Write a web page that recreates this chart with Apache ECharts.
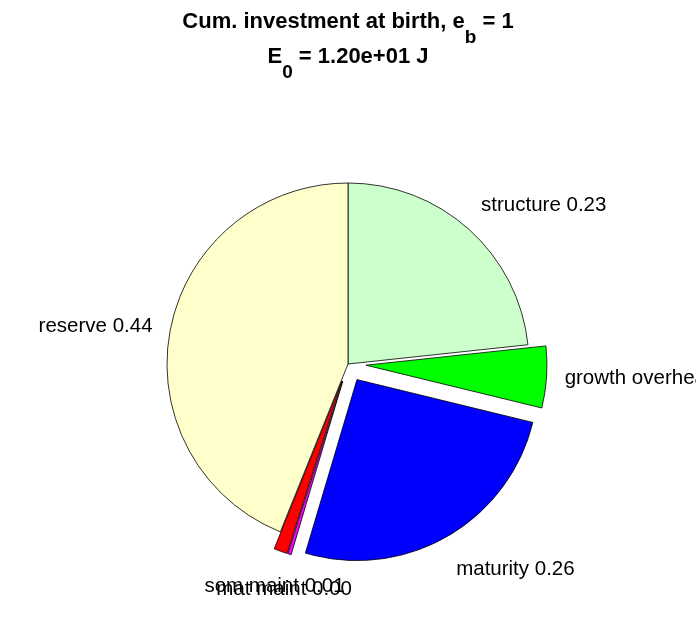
<!DOCTYPE html>
<html>
<head>
<meta charset="utf-8">
<script src="https://cdn.jsdelivr.net/npm/echarts@6/dist/echarts.min.js"></script>
<style>html,body{margin:0;padding:0;background:#fff;}#c{width:696px;height:618px;}</style>
</head>
<body>
<div id="c"></div>
<script>
const names = ['structure', 'growth overhead', 'maturity', 'mat maint', 'som maint', 'reserve'];
const values = [0.233, 0.055, 0.258, 0.003, 0.012, 0.439];
const colors = ['#ccffcc', '#00ff00', '#0000ff', '#ff00ff', '#ff0000', '#ffffcc'];
const exploded = [false, true, true, true, true, false];
const titleLine1 = ['Cum. investment at birth, e', 'b', ' = 1'];
const titleLine2 = ['E', '0', ' = 1.20e+01 J'];

const R = 181, CY = 364, OFF = 18;
const total = values.reduce((a, b) => a + b, 0);
const chart = echarts.init(document.getElementById('c'), null, {renderer: 'canvas'});

function labelPos(i, rect) {
  let cum = 0;
  for (let k = 0; k < i; k++) cum += values[k];
  const mid = (90 - (cum + values[i] / 2) / total * 360) * Math.PI / 180;
  const r = R * 1.1 + (exploded[i] ? OFF : 0);
  const cx = chart.getWidth() / 2;
  const c = Math.cos(mid), s = Math.sin(mid);
  const ax = cx + r * c, ay = CY - r * s;
  const w = rect.width, h = rect.height;
  const x = c > 0.4 ? ax : (c < -0.4 ? ax - w : ax - w / 2);
  let y = s > 0.4 ? ay - h : (s < -0.4 ? ay : ay - h / 2);
  y += Math.max(0, -s) * 8 + Math.max(0, s) * 0;
  return {x: x, y: y, align: 'left', verticalAlign: 'top'};
}

const sliceData = names.map((n, i) => ({
  name: n,
  value: values[i],
  selected: exploded[i],
  itemStyle: {color: colors[i]}
}));
const labelData = names.map((n, i) => ({name: n, value: values[i]}));

const mainStyle = {fontFamily: 'Liberation Sans', fontWeight: 'bold', fontSize: 22, color: '#000', lineHeight: 28, verticalAlign: 'top'};
const subStyle = {fontFamily: 'Liberation Sans', fontWeight: 'bold', fontSize: 19, color: '#000', lineHeight: 19, verticalAlign: 'top', padding: [17, 0, 0, 0]};
function richTitle(parts) {
  return '{a|' + parts[0] + '}{s|' + parts[1] + '}{a|' + parts[2] + '}';
}

const pieBase = {
  type: 'pie',
  center: ['50%', CY],
  radius: [0, R],
  startAngle: 90,
  clockwise: true,
  avoidLabelOverlap: false,
  silent: true,
  emphasis: {disabled: true}
};

chart.setOption({
  animation: false,
  backgroundColor: '#ffffff',
  title: [
    {left: 'center', top: 11, padding: 0, text: richTitle(titleLine1), textStyle: {rich: {a: mainStyle, s: subStyle}}},
    {left: 'center', top: 46, padding: 0, text: richTitle(titleLine2), textStyle: {rich: {a: mainStyle, s: subStyle}}}
  ],
  series: [
    Object.assign({}, pieBase, {
      name: 'slices',
      selectedMode: 'multiple',
      selectedOffset: OFF,
      itemStyle: {borderColor: '#000', borderWidth: 0.8},
      label: {show: false},
      labelLine: {show: false},
      data: sliceData
    }),
    Object.assign({}, pieBase, {
      name: 'labels',
      selectedMode: false,
      itemStyle: {color: 'rgba(0,0,0,0)', borderWidth: 0},
      label: {
        show: true,
        position: 'outside',
        formatter: p => p.name + ' ' + p.value.toFixed(2),
        fontFamily: 'Liberation Sans',
        fontSize: 20.5,
        color: '#000'
      },
      labelLine: {show: false},
      labelLayout: p => labelPos(p.dataIndex, p.labelRect),
      data: labelData
    })
  ]
});
</script>
</body>
</html>
